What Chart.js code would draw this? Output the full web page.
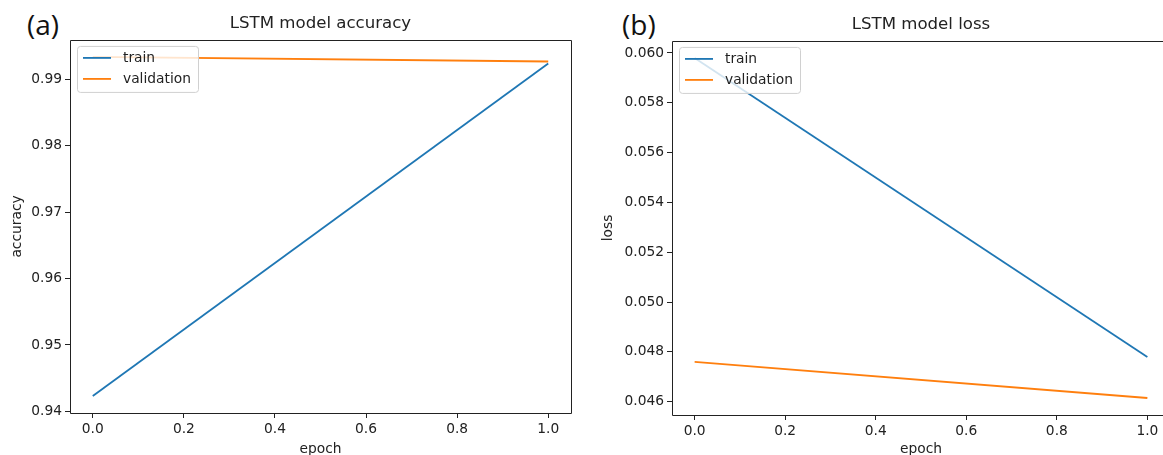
<!DOCTYPE html>
<html>
<head>
<meta charset="utf-8">
<script src="https://cdn.jsdelivr.net/npm/chart.js@4.4.1/dist/chart.umd.min.js"></script>
<style>
  html, body { margin: 0; padding: 0; background: #fff; overflow: hidden; }
  body { width: 1163px; height: 455px; position: relative; }
  #wrap { position: absolute; left: 0; top: 0; width: 1163px; height: 455px; overflow: hidden; }
  canvas { position: absolute; top: 0; }
  #accChart { left: 0; }
  #lossChart { left: 580px; }
  .panel { position: absolute; font-family: "Open Sans", "Noto Sans", sans-serif; font-size: 28px; line-height: 1; color: #111; }
</style>
</head>
<body>
<div id="wrap">
<div class="panel" style="left:27px; top:10px;">(a)</div>
<div class="panel" style="left:622px; top:10px;">(b)</div>
<canvas id="accChart" width="590" height="455"></canvas>
<canvas id="lossChart" width="600" height="455"></canvas>
</div>
<script>
const epochs = [0, 1];
const accTrain = [0.9423, 0.9924];
const accVal = [0.9934, 0.9927];
const lossTrain = [0.0598, 0.0478];
const lossVal = [0.0476, 0.04615];

const epochTicks = [0.0, 0.2, 0.4, 0.6, 0.8, 1.0];
const accTicks = [0.94, 0.95, 0.96, 0.97, 0.98, 0.99];
const lossTicks = [0.046, 0.048, 0.050, 0.052, 0.054, 0.056, 0.058, 0.060];

const BLUE = '#1f77b4';
const ORANGE = '#ff7f0e';
const INK = '#222';
const FONT = 'DejaVu Sans';

// matplotlib style 5% margins
function padRange(values) {
    const lo = Math.min(...values), hi = Math.max(...values);
    const m = (hi - lo) * 0.05;
    return [lo - m, hi + m];
}

// axes frame; the right side is left out when it falls outside the window
const framePlugin = {
    id: 'frame',
    afterDatasetsDraw(chart) {
        const {ctx, chartArea: a} = chart;
        const l = Math.round(a.left) + 0.5, t = Math.round(a.top) + 0.5;
        const r = Math.round(a.right) + 0.5, b = Math.round(a.bottom) + 0.5;
        const offLeft = chart.canvas.getBoundingClientRect().left;
        ctx.save();
        ctx.lineWidth = 1;
        ctx.strokeStyle = INK;
        ctx.beginPath();
        ctx.moveTo(r, t); ctx.lineTo(l, t); ctx.lineTo(l, b); ctx.lineTo(r, b);
        if (offLeft + r < 1163) {
            ctx.moveTo(r, t); ctx.lineTo(r, b);
        }
        ctx.stroke();
        ctx.restore();
    }
};

// legend inside upper left corner
const innerLegend = {
    id: 'innerLegend',
    afterDraw(chart) {
        const {ctx, chartArea: a} = chart;
        const x = a.left + 7, y = a.top + 6, w = 121, h = 46, r = 3;
        ctx.save();
        ctx.beginPath();
        ctx.roundRect(x + 0.5, y + 0.5, w, h, r);
        ctx.fillStyle = 'rgba(255,255,255,0.8)';
        ctx.fill();
        ctx.strokeStyle = '#d0d0d0';
        ctx.lineWidth = 1;
        ctx.stroke();
        ctx.font = '13.8px "' + FONT + '"';
        ctx.textBaseline = 'middle';
        chart.data.datasets.forEach((ds, i) => {
            const ry = y + 12 + i * 21;
            ctx.beginPath();
            ctx.moveTo(x + 6, ry);
            ctx.lineTo(x + 34, ry);
            ctx.strokeStyle = ds.borderColor;
            ctx.lineWidth = 1.8;
            ctx.stroke();
            ctx.fillStyle = INK;
            ctx.fillText(ds.label, x + 46, ry);
        });
        ctx.restore();
    }
};

function makeChart(id, opts) {
    const [ymin, ymax] = padRange(opts.train.concat(opts.val));
    return new Chart(document.getElementById(id), {
        type: 'line',
        data: {
            datasets: [{
                label: 'train',
                data: epochs.map((e, i) => ({x: e, y: opts.train[i]})),
                borderColor: BLUE,
                borderWidth: 1.8,
                pointRadius: 0,
                fill: false
            }, {
                label: 'validation',
                data: epochs.map((e, i) => ({x: e, y: opts.val[i]})),
                borderColor: ORANGE,
                borderWidth: 1.8,
                pointRadius: 0,
                fill: false
            }]
        },
        options: {
            responsive: false,
            animation: false,
            layout: { padding: { top: opts.padTop, right: opts.padRight, left: 0, bottom: 0 } },
            plugins: {
                legend: { display: false },
                tooltip: { enabled: false },
                title: {
                    display: true,
                    text: opts.title,
                    fullSize: false,
                    color: INK,
                    font: { family: FONT, size: 16.6, weight: 'normal' },
                    padding: { top: 14, bottom: 6 }
                }
            },
            scales: {
                x: {
                    type: 'linear',
                    min: -0.05,
                    max: 1.05,
                    afterBuildTicks: s => { s.ticks = epochTicks.map(v => ({value: v})); },
                    afterFit: s => { s.height = opts.xHeight; },
                    grid: { drawOnChartArea: false, drawTicks: true, tickLength: 5, color: INK },
                    border: { display: false },
                    ticks: {
                        color: INK,
                        padding: 3,
                        maxRotation: 0,
                        font: { family: FONT, size: 13.8 },
                        callback: v => v.toFixed(1)
                    },
                    title: {
                        display: true,
                        text: 'epoch',
                        color: INK,
                        font: { family: FONT, size: 13.8 },
                        padding: { top: 0, bottom: -3 }
                    }
                },
                y: {
                    type: 'linear',
                    min: ymin,
                    max: ymax,
                    afterBuildTicks: s => { s.ticks = opts.ticks.map(v => ({value: v})); },
                    afterFit: s => { s.width = opts.yWidth; },
                    grid: { drawOnChartArea: false, drawTicks: true, tickLength: 5, color: INK },
                    border: { display: false },
                    ticks: {
                        color: INK,
                        padding: 3,
                        font: { family: FONT, size: 13.8 },
                        callback: v => v.toFixed(opts.digits)
                    },
                    title: {
                        display: true,
                        text: opts.yLabel,
                        color: INK,
                        font: { family: FONT, size: 13.8 },
                        padding: { top: opts.yTitlePad, bottom: 0 }
                    }
                }
            }
        },
        plugins: [framePlugin, innerLegend]
    });
}

makeChart('accChart', {
    title: 'LSTM model accuracy',
    yLabel: 'accuracy',
    train: accTrain,
    val: accVal,
    ticks: accTicks,
    digits: 2,
    padTop: 0,
    padRight: 19,
    xHeight: 42,
    yWidth: 70,
    yTitlePad: 9
});

// right panel runs past the window edge, as in the reference
makeChart('lossChart', {
    title: 'LSTM model loss',
    yLabel: 'loss',
    train: lossTrain,
    val: lossVal,
    ticks: lossTicks,
    digits: 3,
    padTop: 1,
    padRight: 10,
    xHeight: 40,
    yWidth: 92,
    yTitlePad: 20
});
</script>
</body>
</html>
